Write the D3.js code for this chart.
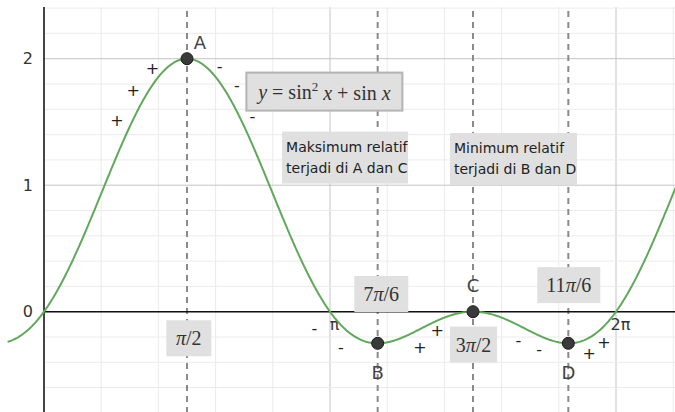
<!DOCTYPE html>
<html lang="id">
<head>
<meta charset="utf-8">
<script src="https://cdn.jsdelivr.net/npm/d3@7"></script>
<style>
    body { margin: 0; background: #fff; }
    svg { display: block; }
    .tick text { font-family: "DejaVu Sans", sans-serif; font-size: 16px; fill: #333; }
    .sign { font-family: "DejaVu Sans", sans-serif; font-size: 16px; fill: #222; text-anchor: middle; }
    .ptlabel { font-family: "DejaVu Sans", sans-serif; font-size: 18px; fill: #444; text-anchor: middle; }
    .note { font-family: "DejaVu Sans", sans-serif; font-size: 14px; fill: #222; }
    .math { font-family: "Liberation Serif", "DejaVu Serif", serif; fill: #333; text-anchor: middle; }
</style>
</head>
<body>
<script>
    const PI = Math.PI;

    // critical points (A, B, C, D)
    const pointNames = ["A", "B", "C", "D"];
    const pointX = [PI / 2, 7 * PI / 6, 3 * PI / 2, 11 * PI / 6];
    const pointY = [2, -0.25, 0, -0.25];

    // sign annotations along the curve (data coords)
    const signText = ["+", "+", "+", "-", "-", "-", "-", "-", "+", "+", "-", "-", "+", "+"];
    const signX = [0.80, 0.98, 1.19, 1.93, 2.12, 2.29, 2.97, 3.26, 4.13, 4.32, 5.21, 5.44, 5.99, 6.15];
    const signY = [1.51, 1.75, 1.92, 1.94, 1.79, 1.54, -0.13, -0.28, -0.28, -0.15, -0.23, -0.30, -0.33, -0.24];

    // x-value boxes
    const boxLabels = ["π/2", "7π/6", "3π/2", "11π/6"];
    const boxX = [PI / 2 + 0.02, 7 * PI / 6 + 0.04, 3 * PI / 2 + 0.005, 11 * PI / 6 + 0.005];
    const boxY = [-0.21, 0.14, -0.26, 0.21];

    const yTicks = [0, 1, 2];
    const xTicks = [PI, 2 * PI];
    const xTickLabels = ["π", "2π"];

    const dim = { width: 675, height: 412, top: 7 };

    const x = d3.scaleLinear().domain([0, 2 * PI]).range([44, 616]);
    const y = d3.scaleLinear().domain([0, 2]).range([311.7, 58.7]);

    const svg = d3.select("body").append("svg")
        .attr("width", dim.width)
        .attr("height", dim.height);

    const xMax = x.invert(dim.width);
    const yMin = y.invert(dim.height);
    const yMax = y.invert(dim.top);

    // grid
    const grid = svg.append("g");
    const vLines = d3.range(0, 12).map(k => k * PI / 5).filter(v => v <= xMax);
    grid.selectAll("line.v")
        .data(vLines)
        .join("line")
        .attr("x1", d => x(d)).attr("x2", d => x(d))
        .attr("y1", dim.top).attr("y2", dim.height)
        .attr("stroke", (d, i) => i % 5 === 0 ? "#c4c4c4" : "#ebebeb")
        .attr("stroke-width", 1);
    const hLines = d3.range(-4, 13).map(k => k * 0.2).filter(v => v >= yMin && v <= yMax);
    grid.selectAll("line.h")
        .data(hLines)
        .join("line")
        .attr("x1", x(0)).attr("x2", dim.width)
        .attr("y1", d => y(d)).attr("y2", d => y(d))
        .attr("stroke", d => Math.abs(d - Math.round(d)) < 1e-6 ? "#c4c4c4" : "#ebebeb")
        .attr("stroke-width", 1);

    // dashed verticals
    svg.selectAll("line.dash")
        .data(pointX)
        .join("line")
        .attr("x1", d => x(d)).attr("x2", d => x(d))
        .attr("y1", dim.top + 4).attr("y2", dim.height)
        .attr("stroke", "#8a8a8a")
        .attr("stroke-width", 2)
        .attr("stroke-dasharray", "6,5");

    // axes
    svg.append("line")
        .attr("x1", x(0)).attr("x2", dim.width)
        .attr("y1", y(0)).attr("y2", y(0))
        .attr("stroke", "#111").attr("stroke-width", 1.5);
    svg.append("line")
        .attr("x1", x(0)).attr("x2", x(0))
        .attr("y1", dim.top).attr("y2", dim.height)
        .attr("stroke", "#111").attr("stroke-width", 1.5);

    const yAxis = svg.append("g")
        .attr("transform", `translate(${x(0)},0)`)
        .call(d3.axisLeft(y).tickValues(yTicks).tickSize(0).tickPadding(11).tickFormat(d3.format("d")));
    yAxis.select(".domain").remove();

    const xAxis = svg.append("g")
        .attr("transform", `translate(0,${y(0)})`)
        .call(d3.axisBottom(x).tickValues(xTicks).tickSize(0).tickPadding(7)
            .tickFormat((d, i) => xTickLabels[i]));
    xAxis.select(".domain").remove();
    xAxis.selectAll("text").attr("dx", 4);

    // curve
    const f = t => Math.sin(t) ** 2 + Math.sin(t);
    const xs = d3.range(-0.4, xMax + 0.01, 0.01);
    svg.append("path")
        .datum(xs)
        .attr("d", d3.line().x(d => x(d)).y(d => y(f(d))))
        .attr("fill", "none")
        .attr("stroke", "#62a85c")
        .attr("stroke-width", 2);

    // sign markers
    svg.selectAll("text.sign")
        .data(signText)
        .join("text")
        .attr("class", "sign")
        .attr("x", (d, i) => x(signX[i]))
        .attr("y", (d, i) => y(signY[i]))
        .attr("dy", "0.35em")
        .text(d => d);

    // boxes with x values
    const bw = [45, 54, 47, 63];
    const bg = svg.selectAll("g.xbox")
        .data(boxLabels)
        .join("g")
        .attr("transform", (d, i) => `translate(${x(boxX[i])},${y(boxY[i])})`);
    bg.append("rect")
        .attr("x", (d, i) => -bw[i] / 2).attr("y", -18)
        .attr("width", (d, i) => bw[i]).attr("height", 36)
        .attr("fill", "#e0e0e0");
    bg.append("text")
        .attr("class", "math")
        .attr("font-size", 20)
        .attr("dy", "0.35em")
        .each(function (d) {
            const t = d3.select(this);
            const parts = d.split("π");
            t.append("tspan").text(parts[0]);
            t.append("tspan").attr("font-style", "italic").text("π");
            t.append("tspan").text(parts[1]);
        });

    // formula box
    const fb = svg.append("g").attr("transform", `translate(${x(3.08)},${y(1.74)})`);
    fb.append("rect")
        .attr("x", -78).attr("y", -19).attr("width", 156).attr("height", 38)
        .attr("fill", "#e0e0e0").attr("stroke", "#b4b4b4").attr("stroke-width", 2);
    const ft = fb.append("text").attr("class", "math").attr("font-size", 20).attr("dy", "0.35em");
    ft.append("tspan").attr("font-style", "italic").text("y");
    ft.append("tspan").text(" = sin");
    ft.append("tspan").attr("font-size", 13).attr("dy", "-0.6em").text("2");
    ft.append("tspan").attr("dy", "0.45em").attr("font-style", "italic").text(" x");
    ft.append("tspan").text(" + sin ");
    ft.append("tspan").attr("font-style", "italic").text("x");

    // notes
    const notes = [
        { lines: ["Maksimum relatif", "terjadi di A dan C"], cx: 3.307, cy: 1.218, w: 126 },
        { lines: ["Minimum relatif", "terjadi di B dan D"], cx: 5.157, cy: 1.207, w: 127 }
    ];
    const ng = svg.selectAll("g.note")
        .data(notes)
        .join("g")
        .attr("transform", d => `translate(${x(d.cx)},${y(d.cy)})`);
    ng.append("rect")
        .attr("x", d => -d.w / 2).attr("y", -26)
        .attr("width", d => d.w).attr("height", 52)
        .attr("fill", "#e0e0e0");
    ng.append("text")
        .attr("class", "note")
        .attr("x", d => -d.w / 2 + 4)
        .selectAll("tspan")
        .data(d => d.lines)
        .join("tspan")
        .attr("x", function () { return d3.select(this.parentNode).attr("x"); })
        .attr("y", (d, i) => i === 0 ? -6 : 15)
        .text(d => d);

    // points
    svg.selectAll("circle.pt")
        .data(pointX)
        .join("circle")
        .attr("cx", d => x(d))
        .attr("cy", (d, i) => y(pointY[i]))
        .attr("r", 6)
        .attr("fill", "#3a3a3a")
        .attr("stroke", "#1a1a1a")
        .attr("stroke-width", 1);

    const labelOff = [[13, -16], [0, 29], [0, -26], [0, 29]];
    svg.selectAll("text.ptlabel")
        .data(pointNames)
        .join("text")
        .attr("class", "ptlabel")
        .attr("x", (d, i) => x(pointX[i]) + labelOff[i][0])
        .attr("y", (d, i) => y(pointY[i]) + labelOff[i][1])
        .attr("dy", "0.35em")
        .text(d => d);
</script>
</body>
</html>
